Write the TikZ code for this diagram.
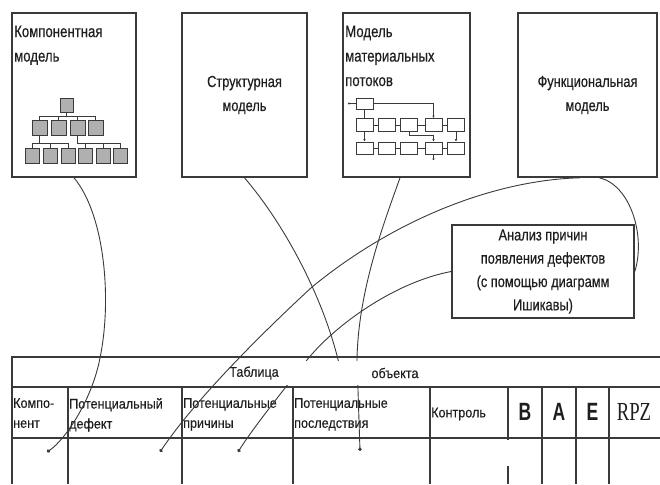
\documentclass[tikz,border=0pt]{standalone}
\usepackage{fontspec}
\setmainfont{Liberation Sans}
\newfontfamily\nfont{Liberation Sans}[FakeStretch=0.8,FakeBold=0.4]
\newfontfamily\tfont{Liberation Sans}[FakeStretch=0.9,FakeBold=0.4]
\newfontfamily\bigfont{Liberation Sans}[FakeStretch=0.7]
\newfontfamily\rpzfont{Liberation Serif}[FakeStretch=0.72]
\usetikzlibrary{arrows.meta}
\definecolor{ln}{HTML}{3a3a3a}
\definecolor{tx}{HTML}{1e1e1e}
\definecolor{treefill}{HTML}{b0b0b0}
\begin{document}
\begin{tikzpicture}[x=1pt,y=-1pt,
  model/.style={draw=ln,line width=1.6pt,fill=white,inner sep=0,text=tx,align=center,
    font=\nfont\fontsize{16}{24}\selectfont},
  boxtext/.style={inner sep=0,anchor=north west,align=left,text=tx,
    font=\nfont\fontsize{16.5}{24.5}\selectfont},
  hdr/.style={inner sep=0,anchor=north west,align=left,text=tx,
    font=\tfont\fontsize{14}{20}\selectfont},
  ttl/.style={inner sep=0,text=tx,font=\tfont\fontsize{14}{20}\selectfont},
  letter/.style={inner sep=0,text=tx,font=\bigfont\bfseries\fontsize{25}{25}\selectfont},
  tbox/.style={draw=ln,fill=treefill,line width=0.8pt,inner sep=0},
  fbox/.style={draw=ln,fill=white,line width=0.8pt,inner sep=0,minimum width=17},
  tl/.style={draw=ln,line width=0.7pt},
  fl/.style={draw=ln,line width=0.7pt,-{Latex[length=2.5pt,width=2.5pt]}},
  curve/.style={draw=ln,line width=0.9pt,-{Circle[length=3.5pt]}},
  plaincurve/.style={draw=ln,line width=0.9pt},
  tline/.style={draw=ln,line width=1.5pt}
]
\useasboundingbox (0,0) rectangle (660,484);

% ---------- top model boxes ----------
\node[model,minimum width=124,minimum height=164] (box1) at (74,95) {};
\node[model,minimum width=125,minimum height=164] (box2) at (244.5,95) {Структурная\\модель};
\node[model,minimum width=127,minimum height=164] (box3) at (406.5,95) {};
\node[model,minimum width=139,minimum height=164] (box4) at (587.5,95) {Функциональная\\модель};

\node[boxtext] (t1) at (14,25.5) {Компонентная\\модель};
\node[boxtext] (t3) at (345,25.5) {Модель\\материальных\\потоков};

% ---------- tree inside box1 ----------
\node[tbox,minimum width=13,minimum height=14] (r) at (66.5,105) {};
\foreach \i/\x in {1/39.5,2/58.5,3/77.5,4/95.5}
  \node[tbox,minimum width=15,minimum height=15] (a\i) at (\x,127.5) {};
\foreach \i/\x in {1/32,2/50.5,3/68,4/85.5,5/103,6/120.5}
  \node[tbox,minimum width=14,minimum height=15] (b\i) at (\x,155.5) {};
\foreach \i in {1,2,3,4}
  \draw[tl] (r.south) -- ++(0,4) -| (a\i.north);
\foreach \i in {1,2,3}
  \draw[tl] (a1.south) -- ++(0,8) -| (b\i.north);
\foreach \i in {4,5,6}
  \draw[tl] (a3.south) -- ++(0,8) -| (b\i.north);

% ---------- flow diagram inside box3 ----------
\node[fbox,minimum height=11] (t0) at (364.5,103.5) {};
\foreach \i/\x in {1/364.5,2/386.5,3/409,4/433.5,5/456} {
  \node[fbox,minimum height=13] (r2\i) at (\x,125) {};
  \node[fbox,minimum height=12] (r3\i) at (\x,148) {};
}
\coordinate (fin) at (348,103.5);
\coordinate (fout) at (433.5,160);
\draw[tl,{Circle[length=2pt]}-] (fin) -- (t0.west);
\draw[fl] (t0.east) -| (r24.north);
\draw[tl] (t0.south) -- (r21.north);
\foreach \a/\b in {1/2,2/3,3/4,4/5} {
  \draw[tl] (r2\a.east) -- (r2\b.west);
  \draw[tl] (r3\a.east) -- (r3\b.west);
}
\draw[fl] (r21.south) -- (r31.north);
\draw[fl] (r23.south) -- ++(0,3.5) -| (r34.north);
\draw[fl] (r25.south) -- (r35.north);
\draw[tl,-{Circle[length=2pt]}] (r34.south) -- (fout);

% ---------- Ishikawa box ----------
\node[model,minimum width=182,minimum height=93,font=\nfont\fontsize{16}{23.3}\selectfont]
  (isk) at (543,271.5) {Анализ причин\\появления дефектов\\(с помощью диаграмм\\Ишикавы)};

% ---------- table ----------
\draw[tline] (12,484) -- (12,357) -- (660,357);
\draw[tline] (12,387) -- (660,387);
\draw[tline] (12,438) -- (660,438);
\foreach \x in {68,182,293,430,508,542,576,609}
  \draw[tline] (\x,387) -- (\x,484);

\node[ttl] (tab1) at (254,373) {Таблица};
\node[ttl] (tab2) at (395,373) {объекта};
\node[hdr] (h1) at (13,398) {Компо-\\нент};
\node[hdr] (h2) at (69,398) {Потенциальный\\дефект};
\node[hdr] (h3) at (183,398) {Потенциальные\\причины};
\node[hdr] (h4) at (294,398) {Потенциальные\\последствия};
\node[ttl,anchor=west] (h5) at (431,414) {Контроль};
\node[letter] (hB) at (525,412) {B};
\node[letter] (hA) at (559,412) {A};
\node[letter] (hE) at (592.5,412) {E};
\node[inner sep=0,text=tx,font=\rpzfont\fontsize{26}{26}\selectfont] (hR) at (634,412) {RPZ};

% ---------- end points in the table ----------
\coordinate (d1) at (47,452);
\coordinate (d2) at (160,452);
\coordinate (d3) at (238,452);
\coordinate (d4) at (360,451);
\coordinate (d5) at (340,368);

% ---------- connectors ----------
\draw[curve] (box1.south) .. controls (105,215) and (112,300) .. (100,358)
  .. controls (92,400) and (65,440) .. (d1);
\draw[plaincurve] (box2.south) .. controls (285,225) and (325,300) .. (d5);
\draw[curve] ([xshift=-6.5pt]box3.south) .. controls (385,220) and (358,290) .. (357,360) -- (d4);
\draw[curve] ([xshift=-8pt]box4.south) .. controls (500,180) and (400,215) .. (312,287)
  .. controls (260,335) and (195,400) .. (d2);
\draw[plaincurve] ([xshift=12pt]box4.south) .. controls (630,185) and (646,235) .. (isk.east);
\draw[curve] (isk.west) .. controls (395,282) and (335,325) .. (307,360)
  .. controls (290,382) and (255,425) .. (d3);

% ---------- erased patches of the original ----------
\fill[white] (333,361) rectangle (367,385);
\fill[white] (283,361) rectangle (312,385);
\fill[white] (467,440) rectangle (519,466);
\end{tikzpicture}
\end{document}
